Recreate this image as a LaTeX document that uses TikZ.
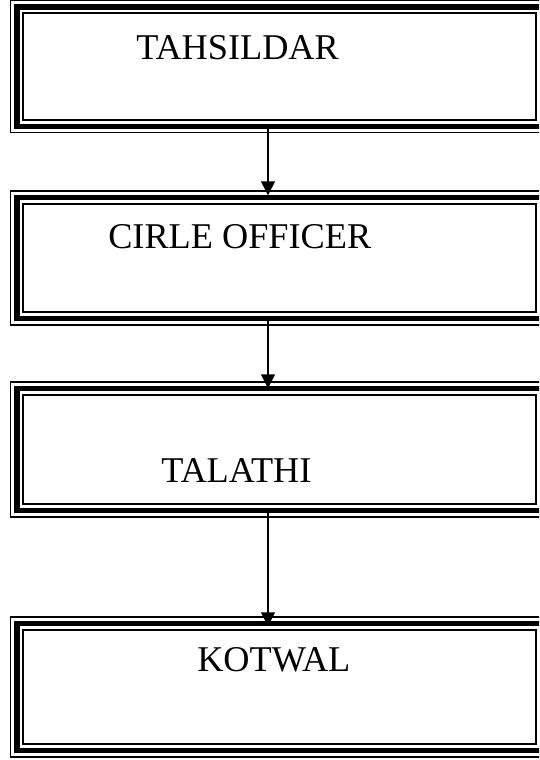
\documentclass[tikz,border=0pt]{standalone}
\usepackage{fontspec}
\setmainfont{Liberation Serif}
\usetikzlibrary{arrows.meta,calc}
\begin{document}
\begin{tikzpicture}[x=0.75pt,y=-0.75pt,
  orgbox/.style={draw, line width=1.1pt, inner sep=0pt, minimum width=538*0.75pt},
  thickline/.style={line width=4.1pt},
  innerline/.style={line width=1.5pt},
  label/.style={anchor=base west, inner sep=0pt, font=\fontsize{27.2pt}{30pt}\selectfont},
  arr/.style={line width=1.1pt, -{Triangle[width=10.5pt,length=10.5pt]}}]
\useasboundingbox (0,0) rectangle (539,760);
\clip (0,0) rectangle (539,760);
\node[orgbox, minimum height=132*0.75pt] (b1) at (279.5,66.5) {};
\node[orgbox, minimum height=134*0.75pt] (b2) at (279.5,258) {};
\node[orgbox, minimum height=135*0.75pt] (b3) at (279.5,449.5) {};
\node[orgbox, minimum height=140*0.75pt] (b4) at (279.5,687) {};
\foreach \b in {b1,b2,b3,b4}{
  \draw[thickline] ($(\b.north west)+(7,7)$) rectangle ($(\b.south east)+(-7,-7)$);
  \draw[innerline] ($(\b.north west)+(13.5,13.5)$) rectangle ($(\b.south east)+(-13.5,-13.5)$);
}
\node[label] (t1) at (136,59) {TAHSILDAR};
\node[label] (t2) at (108,248) {CIRLE OFFICER};
\node[label] (t3) at (161,482) {TALATHI};
\node[label] (t4) at (197,671) {KOTWAL};
\coordinate (ax) at (268,0);
\draw[arr] ($(b1.south -| ax)+(0,-7)$) -- ($(b2.north -| ax)+(0,5)$);
\draw[arr] ($(b2.south -| ax)+(0,-7)$) -- ($(b3.north -| ax)+(0,7)$);
\draw[arr] ($(b3.south -| ax)+(0,-7)$) -- ($(b4.north -| ax)+(0,10)$);
\end{tikzpicture}
\end{document}
